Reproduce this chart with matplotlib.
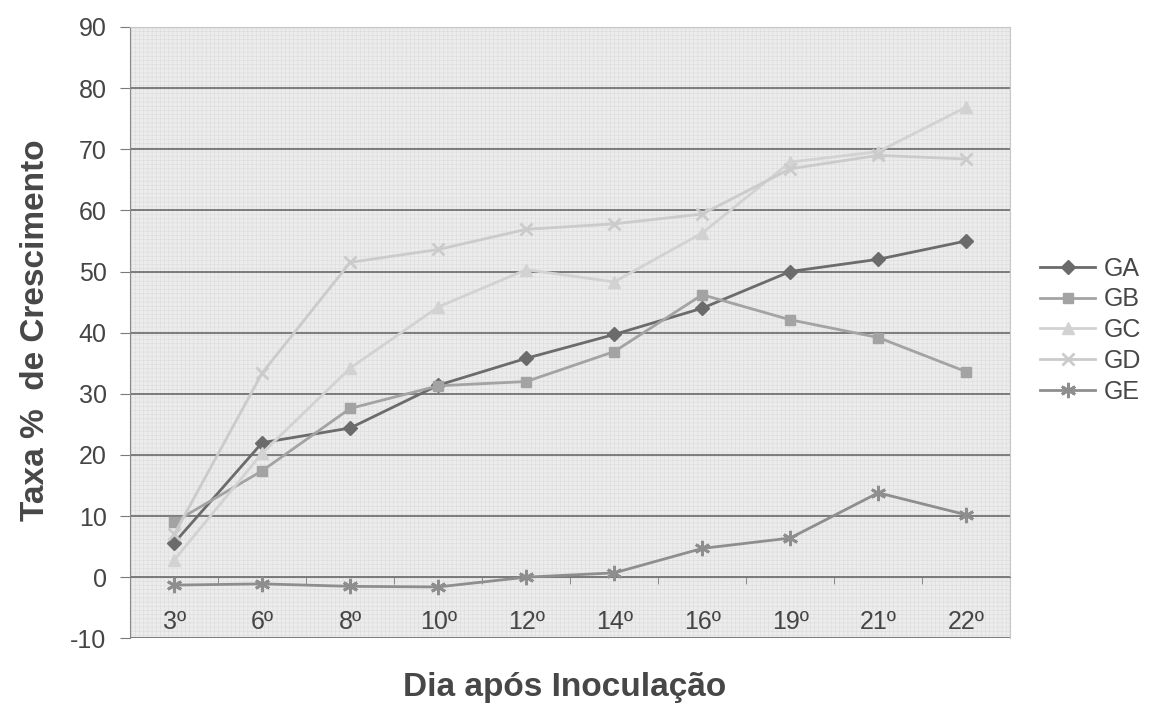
import matplotlib
matplotlib.use("Agg")
import matplotlib.pyplot as plt
from matplotlib.patches import Rectangle
import numpy as np

plt.rcParams['font.family'] = ['Liberation Sans', 'DejaVu Sans']
plt.rcParams['axes.unicode_minus'] = False
plt.rcParams['hatch.linewidth'] = 0.4

dias = ["3º", "6º", "8º", "10º", "12º", "14º", "16º", "19º", "21º", "22º"]
ga = [5.6, 22.0, 24.4, 31.4, 35.8, 39.7, 44.0, 50.0, 52.0, 55.0]
gb = [9.0, 17.4, 27.6, 31.3, 32.0, 36.9, 46.2, 42.1, 39.2, 33.6]
gc = [2.8, 20.3, 34.2, 44.2, 50.3, 48.3, 56.3, 67.9, 69.6, 76.9]
gd = [7.0, 33.4, 51.5, 53.6, 56.9, 57.8, 59.4, 66.8, 69.0, 68.4]
ge = [-1.3, -1.1, -1.5, -1.6, 0.0, 0.7, 4.7, 6.4, 13.8, 10.2]

series = [
    ("GA", ga, "#6b6b6b", "D", 7),
    ("GB", gb, "#a3a3a3", "s", 7),
    ("GC", gc, "#d2d2d2", "^", 8),
    ("GD", gd, "#cbcbcb", "x", 9),
    ("GE", ge, "#8e8e8e", (6, 2, 0), 11),
]

fig = plt.figure(figsize=(11.52, 7.10), dpi=100)
ax = fig.add_axes([0.113, 0.101, 0.764, 0.861])
ax.set_facecolor("#ececec")
# textura pontilhada do fundo
ax.add_patch(Rectangle((0, 0), 1, 1, transform=ax.transAxes, fill=False,
                       hatch="++++", ec="#dcdcdc", lw=0, zorder=0.2))

x = np.arange(len(dias))
for nome, vals, cor, mk, ms in series:
    ax.plot(x, vals, color=cor, lw=2, marker=mk, ms=ms,
            mew=2 if mk in ("x", (6, 2, 0)) else 1,
            mec=cor, mfc=cor, label=nome, zorder=3)

ax.set_xlim(-0.5, len(dias) - 0.5)
ax.set_ylim(-10, 90)
ax.set_yticks(range(-10, 91, 10))
ax.yaxis.grid(True, color="#5e5e5e", lw=1.1)
ax.set_axisbelow(True)

# eixo x cruzando em zero, marcas entre as categorias
ax.spines['bottom'].set_position(('data', 0))
ax.spines['bottom'].set_color("#7a7a7a")
ax.set_xticks(x)
ax.set_xticklabels(dias)
ax.set_xticks(np.arange(0.5, len(dias) - 0.5, 1), minor=True)
ax.tick_params(axis='x', which='major', length=0, pad=24, labelsize=18, colors="#454545")
ax.tick_params(axis='x', which='minor', length=5, direction='out', color="#7a7a7a")
ax.tick_params(axis='y', length=7, pad=10, labelsize=18, colors="#454545", color="#7a7a7a")

ax.spines['left'].set_color("#8a8a8a")
for s in ("top", "right"):
    ax.spines[s].set_color("#c8c8c8")
ax.add_patch(Rectangle((0, 0), 1, 1, transform=ax.transAxes, fill=False,
                       ec="#c8c8c8", lw=1, zorder=0.5))

fig.text(0.031, 0.535, "Taxa %  de Crescimento", rotation=90, fontsize=24,
         fontweight="bold", color="#474747", ha="center", va="center")
fig.text(0.49, 0.031, "Dia após Inoculação", fontsize=24, fontweight="bold",
         color="#474747", ha="center", va="center")

leg = ax.legend(loc="center left", bbox_to_anchor=(0.903, 0.535),
                bbox_transform=fig.transFigure, frameon=False, borderpad=0,
                borderaxespad=0, fontsize=18, handlelength=2.2,
                labelspacing=0.27, handletextpad=0.35)
for t in leg.get_texts():
    t.set_color("#474747")

fig.savefig("out.png", dpi=100, facecolor="white")
